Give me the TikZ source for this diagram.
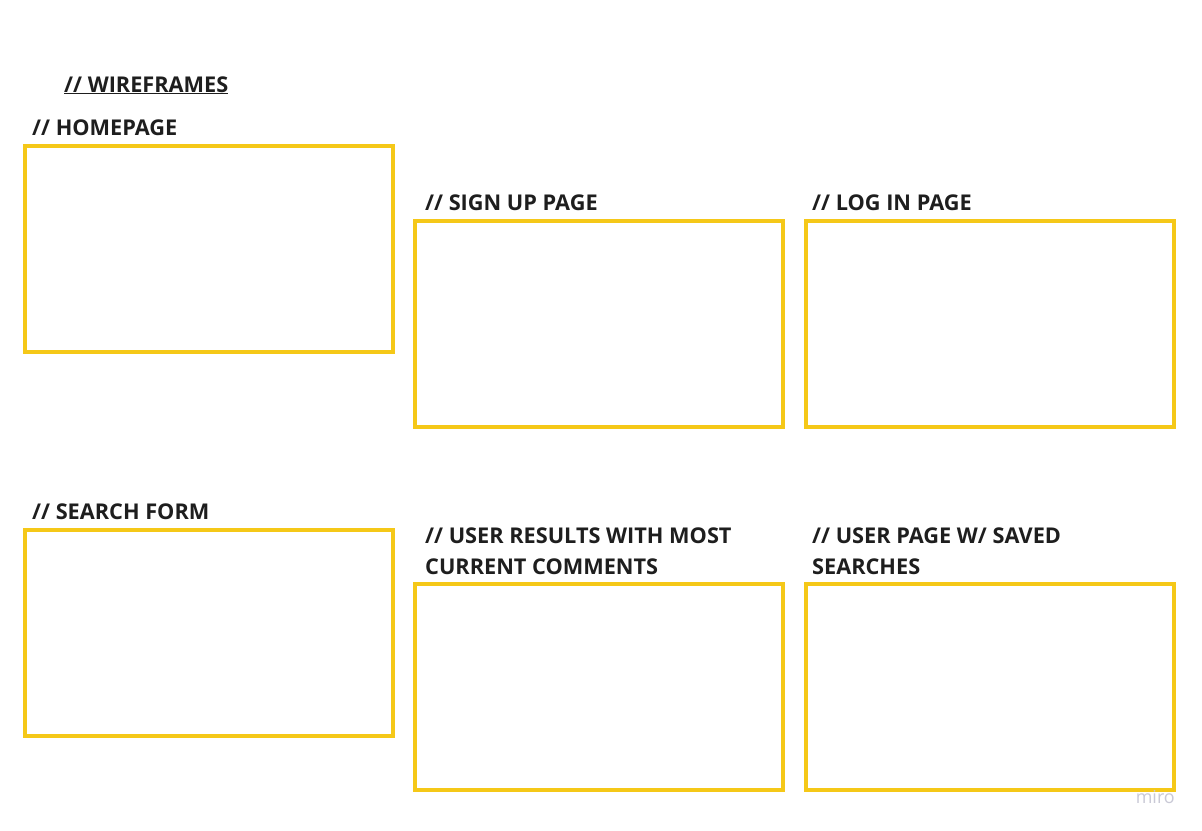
\documentclass[tikz,border=0pt]{standalone}
\usepackage{fontspec}
\setmainfont{Open Sans}
\definecolor{frameyellow}{HTML}{F5C818}
\definecolor{textdark}{HTML}{1E1E1E}
\definecolor{mirogray}{HTML}{C9C9D6}
\begin{document}
\begin{tikzpicture}[
    x=1bp, y=-1bp,
    frame/.style={draw=frameyellow, line width=4bp, minimum width=368bp, minimum height=206bp, inner sep=0pt, outer sep=0pt},
    title/.style={anchor=base west, inner sep=0pt, text=textdark, font=\fontsize{21.8}{31}\selectfont\bfseries, align=left}
]
\useasboundingbox[fill=white] (0,0) rectangle (1202,831);
% top row
\node[frame, anchor=north west] (home)   at (25,146) {};
\node[frame, anchor=north west] (signup) at (415,221) {};
\node[frame, anchor=north west] (login)  at (806,221) {};
% bottom row
\node[frame, anchor=north west] (search) at (25,530) {};
\node[frame, anchor=north west] (results) at (415,584) {};
\node[frame, anchor=north west] (userpage) at (806,584) {};
% titles
\node[title] (wire) at (64,92) {\underline{// WIREFRAMES}};
\node[title] (homeL)   at (32,135) {// HOMEPAGE};
\node[title] (signupL) at (425,210) {// SIGN UP PAGE};
\node[title] (loginL)  at (812,210) {// LOG IN PAGE};
\node[title] (searchL) at (32,519) {// SEARCH FORM};
% base of a two-line title sits on its last line
\node[title] (resultsL) at (425,574) {// USER RESULTS WITH MOST\\CURRENT COMMENTS};
\node[title] (userpageL) at (812,574) {// USER PAGE W/ SAVED\\SEARCHES};
% watermark
\node[anchor=base east, inner sep=0pt, text=mirogray, font=\fontsize{18}{18}\selectfont] (miro) at (1175,803) {miro};
\end{tikzpicture}
\end{document}
